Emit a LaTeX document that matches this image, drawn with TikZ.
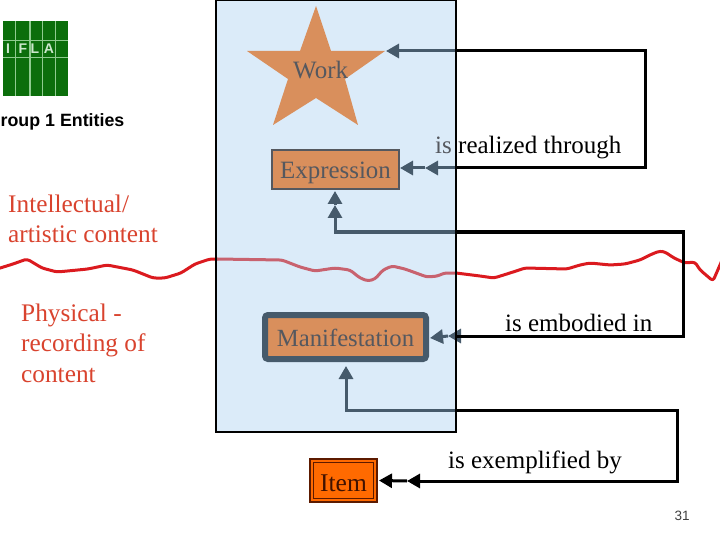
\documentclass[tikz,border=0pt]{standalone}
\usepackage{fontspec}
\setmainfont{Liberation Serif}
\setsansfont{Liberation Sans}
\usetikzlibrary{arrows.meta}
\definecolor{panelblue}{HTML}{DBEBF9}
\definecolor{slate}{HTML}{465A6B}
\definecolor{tan1}{HTML}{D98F5C}
\definecolor{intext}{HTML}{55585F}
\definecolor{redline}{HTML}{DB1A1F}
\definecolor{pinkline}{HTML}{C8626F}
\definecolor{redtext}{HTML}{D9432E}
\definecolor{itemor}{HTML}{FF6A00}
\definecolor{itemdk}{HTML}{5C1A00}
\definecolor{logog}{HTML}{0B6E0B}
\definecolor{logol}{HTML}{8FCB8F}
\tikzset{
  x=1pt,y=-1pt,
  label25/.style={anchor=base west,inner sep=0pt,font=\fontsize{25}{25}\selectfont},
  redlabel/.style={anchor=base west,inner sep=0pt,font=\fontsize{25.3}{25.3}\selectfont,text=redtext},
  darkconn/.style={draw=black,line width=3pt,miter limit=10},
  slateconn/.style={draw=slate,line width=3pt},
  tipS/.style={-{Triangle[length=13pt,width=14pt]}},
  redstroke/.style={line width=3pt,line join=round,line cap=round,rounded corners=3pt},
  logotext/.style={inner sep=0pt,text=logol!45!white,font=\sffamily\bfseries\fontsize{14}{14}\selectfont},
}
\begin{document}
\begin{tikzpicture}
\useasboundingbox (0,0) rectangle (720,540);
\fill[white] (0,0) rectangle (720,540);
% logo
\fill[logog] (3,21) rectangle (68,96);
\foreach \xx/\ww in {15/1,29/2.2,42/1,55/1}{\fill[logol] (\xx,21) rectangle (\xx+\ww,96);}
\fill[logol] (3,40.5) rectangle (68,41.5);
\fill[logol] (3,57) rectangle (68,58);
\node[logotext] (lI) at (8,49) {I};
\node[logotext] (lF) at (23,49) {F};
\node[logotext] (lL) at (35,49) {L};
\node[logotext] (lA) at (49,49) {A};
\node[anchor=base west,inner sep=0pt,font=\sffamily\bfseries\fontsize{17.8}{17.8}\selectfont] (grp) at (0.5,127) {roup 1 Entities};
% panel
\fill[panelblue] (216,0) rectangle (456,432);
% red line
\draw[redline,redstroke] (-3,269) -- (13,264) -- (27,259) -- (42,268) -- (57,272) -- (88,269) -- (107,265) -- (133,270) -- (153,278) -- (165,278) -- (181,273) -- (195,264) -- (210,259) -- (217,259);
\draw[pinkline,redstroke] (217,259) -- (282,260) -- (300,267) -- (315,271) -- (335,268) -- (350,270) -- (360,278) -- (368,281) -- (375,279) -- (383,270) -- (392,266) -- (405,269) -- (427,277) -- (438,276) -- (444,273) -- (456,273);
\draw[redline,redstroke] (456,273) -- (480,276) -- (494,278) -- (510,273) -- (525,268) -- (567,269) -- (580,265) -- (590,263) -- (610,265) -- (625,264) -- (640,260) -- (652,254) -- (660,251) -- (665,252) -- (674,258) -- (685,263) -- (695,262) -- (700,270) -- (706,275) -- (713,281) -- (723,258);
% star
\fill[tan1] (316,6) -- (331,51) -- (385,51) -- (345,79) -- (358,125) -- (316,98) -- (273,125) -- (288,79) -- (247,51) -- (300,51) -- cycle;
\coordinate (worktip) at (385,51);
\node[label25,text=intext] (work) at (293,78.5) {Work};
% boxes
\node[draw=intext,line width=2pt,fill=tan1,minimum width=127pt,minimum height=39pt,inner sep=0pt,text=intext,font=\fontsize{24.9}{24.9}\selectfont] (expr) at (335.5,169.5) {\raisebox{-9pt}[0pt][0pt]{Expression}};
\node[draw=slate,line width=6pt,rounded corners=3pt,fill=tan1,minimum width=161pt,minimum height=44pt,inner sep=0pt,text=intext,font=\fontsize{24.7}{24.7}\selectfont] (manif) at (345.5,337) {\raisebox{-9pt}[0pt][0pt]{Manifestation}};
\node[draw=itemdk,line width=1.5pt,double=itemor,double distance=2pt,fill=itemor,minimum width=63.5pt,minimum height=39.5pt,inner sep=0pt,text=itemdk!70!black,font=\fontsize{25.5}{25.5}\selectfont] (item) at (343.5,480.5) {\raisebox{-10.5pt}[0pt][0pt]{Item}};
% crossing points on the panel border
\coordinate (a1) at (456,51);
\coordinate (a2) at (456,168);
\coordinate (b1) at (456,232);
\coordinate (b2) at (456,336);
\coordinate (d1) at (456,410);
\coordinate (e2) at (645,51);
\coordinate (e3) at (645,168);
\coordinate (f2) at (683,232);
\coordinate (f3) at (683,336);
\coordinate (g2) at (677,410);
\coordinate (g3) at (677,481);
\coordinate (bcorner) at (335,232);
\coordinate (dcorner) at (346,410);
\coordinate (a2mid) at (425,168);
\coordinate (bmid) at (335,205);
\coordinate (b2mid) at (448,336);
\coordinate (itemmid) at (407,481);
% slate parts
\draw[slateconn,tipS] (a1) -- ([xshift=1pt]worktip);
\draw[slateconn,tipS] (a2) -- (a2mid);
\draw[slateconn,tipS] (a2mid) -- ([yshift=1.5pt]expr.east);
\draw[slateconn,tipS] (b1) -- (bcorner) -- (bmid);
\draw[slateconn,tipS] (bmid) -- ([xshift=-0.5pt,yshift=-1pt]expr.south);
\draw[slateconn,tipS] (b2) -- (b2mid);
\draw[slateconn,tipS] (b2mid) -- ([yshift=-1pt,xshift=1pt]manif.east);
\draw[slateconn,tipS] (d1) -- (dcorner) -- ([xshift=0.5pt,yshift=-4pt]manif.south);
% panel border
\draw[black,line width=2pt] (216,0) rectangle (456,432);
% black parts
\draw[darkconn] (a1) -- (e2) -- (e3) -- (a2);
\draw[darkconn] (b1) -- (f2) -- (f3) -- (b2);
\draw[darkconn,tipS] (d1) -- (g2) -- (g3) -- (itemmid);
\draw[darkconn,tipS] (itemmid) -- ([xshift=3pt]item.east);
% relation labels
\node[label25,text=intext] (isr) at (435,154) {is};
\node[label25] (rel1) at (458,154) {realized through};
\node[label25] (rel2) at (505,331) {is embodied in};
\node[label25] (rel3) at (448,468) {is exemplified by};
% red labels
\node[redlabel] (t1) at (8,212) {Intellectual/};
\node[redlabel] (t2) at (8,242.5) {artistic content};
\node[redlabel] (t3) at (21,321) {Physical -};
\node[redlabel] (t4) at (21,351) {recording of};
\node[redlabel] (t5) at (21,382) {content};
\node[anchor=base,inner sep=0pt,text=black!75,font=\sffamily\fontsize{13.5}{13.5}\selectfont] (num) at (682,520) {31};
\end{tikzpicture}
\end{document}
